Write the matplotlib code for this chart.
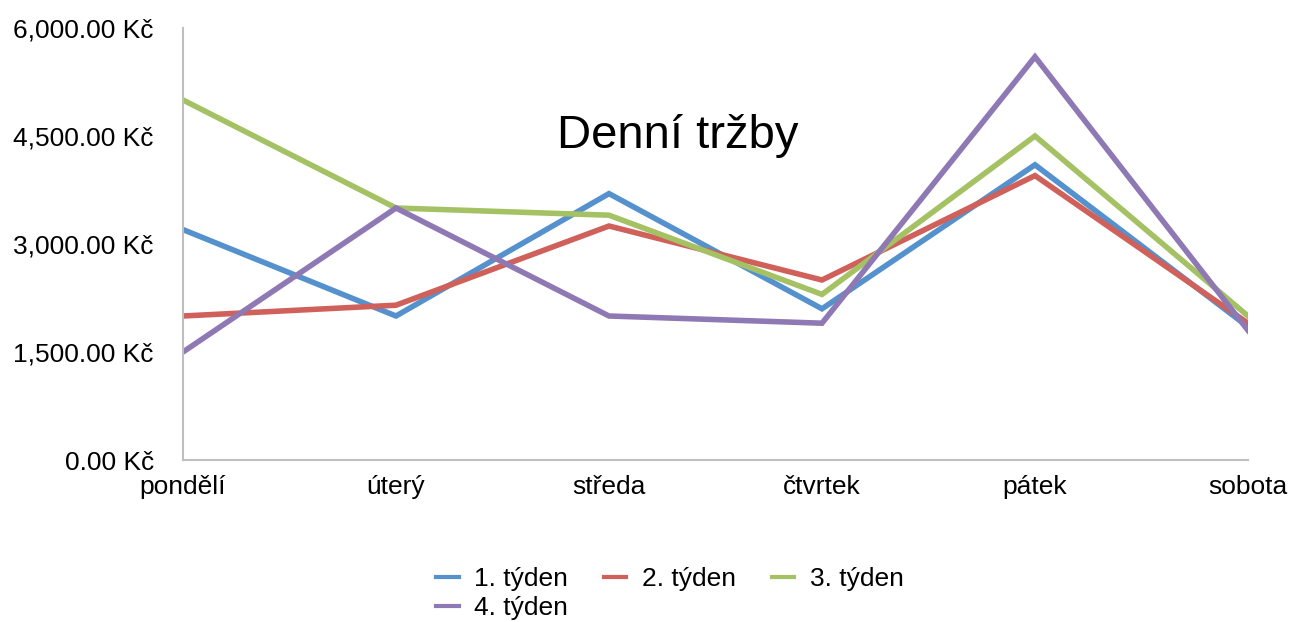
import matplotlib
matplotlib.use("Agg")
import matplotlib.pyplot as plt
from matplotlib.ticker import FuncFormatter

plt.rcParams['font.family'] = ['Liberation Sans', 'DejaVu Sans']

days = ["pondělí", "úterý", "středa", "čtvrtek", "pátek", "sobota"]
week1 = [3200, 2000, 3700, 2100, 4100, 1850]
week2 = [2000, 2150, 3250, 2500, 3950, 1900]
week3 = [5000, 3500, 3400, 2300, 4500, 2000]
week4 = [1500, 3500, 2000, 1900, 5600, 1800]
series_names = ["1. týden", "2. týden", "3. týden", "4. týden"]
colors = ["#5591CC", "#D0605A", "#A4C263", "#8F79B4"]
title = "Denní tržby"
yticks = [0, 1500, 3000, 4500, 6000]

fig = plt.figure(figsize=(12.89, 6.22), dpi=100)
ax = fig.add_axes([183/1289, 1-460/622, (1248-183)/1289, (460-28)/622])

x = list(range(len(days)))
handles = []
for vals, name, c in zip([week1, week2, week3, week4], series_names, colors):
    h, = ax.plot(x, vals, color=c, lw=4.0, label=name, solid_joinstyle='miter')
    handles.append(h)

ax.set_xlim(0, len(days) - 1)
ax.set_ylim(0, 6000)
ax.set_xticks(x)
ax.set_xticklabels(days, fontsize=19)
ax.set_yticks(yticks)
ax.yaxis.set_major_formatter(FuncFormatter(lambda v, p: f"{v:,.2f} Kč"))
ax.tick_params(axis='y', labelsize=19, length=0, pad=21)
ax.tick_params(axis='x', length=0, pad=11)
for s in ['top', 'right']:
    ax.spines[s].set_visible(False)
for s in ['left', 'bottom']:
    ax.spines[s].set_color('#BFBFBF')
    ax.spines[s].set_linewidth(1.5)

ax.text(0.465, 0.75, title, transform=ax.transAxes, ha='center', va='center', fontsize=34)

order = [0, 3, 1, 2]
leg = fig.legend([handles[i] for i in order], [series_names[i] for i in order],
                 loc='upper center', bbox_to_anchor=(670/1289, 1-543/622), ncol=3, frameon=False,
                 fontsize=19, handlelength=0.85, handletextpad=0.6, columnspacing=1.35,
                 labelspacing=0.2)
for lh in leg.get_lines():
    lh.set_linewidth(3.0)

fig.savefig("out.png", dpi=100)
